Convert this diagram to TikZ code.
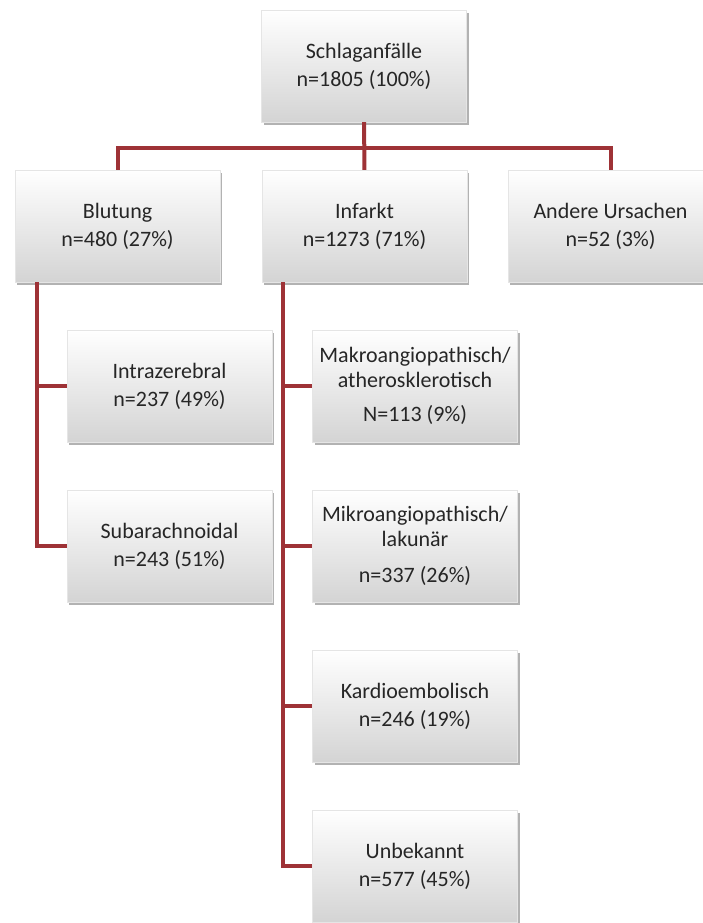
\documentclass[tikz,border=0pt]{standalone}
\usepackage{fontspec}
\setmainfont{Carlito}
\usetikzlibrary{shadows}
\definecolor{linkred}{RGB}{158,50,54}
\tikzset{
  box/.style={minimum width=205pt,minimum height=112pt,align=center,text=black!85,
    top color=white,bottom color=black!17,draw=black!10,
    drop shadow={shadow xshift=2pt,shadow yshift=-3pt,fill=black!55,opacity=0.55},
    font=\fontsize{22}{25}\selectfont},
  link/.style={draw=linkred,line width=4pt}
}
\begin{document}
\begin{tikzpicture}[x=1pt,y=-1pt]
  \useasboundingbox (0,0) rectangle (702,923);
  \node[box] (schlag) at (364,66) {Schlaganfälle\\[3pt]n=1805 (100\%)};
  \node[box] (blutung) at (117.5,226) {Blutung\\[3pt]n=480 (27\%)};
  \node[box] (infarkt) at (364.5,226) {Infarkt\\[3pt]n=1273 (71\%)};
  \node[box] (andere) at (610.5,226) {Andere Ursachen\\[3pt]n=52 (3\%)};
  \node[box] (intra) at (169.5,386) {Intrazerebral\\[3pt]n=237 (49\%)};
  \node[box] (subarach) at (169.5,546) {Subarachnoidal\\[3pt]n=243 (51\%)};
  \node[box] (makro) at (415,386) {Makroangiopathisch/\\atherosklerotisch\\[9pt]N=113 (9\%)};
  \node[box] (mikro) at (415,546) {Mikroangiopathisch/\\lakunär\\[11pt]n=337 (26\%)};
  \node[box] (kardio) at (415,706) {Kardioembolisch\\[3pt]n=246 (19\%)};
  \node[box] (unbek) at (415,866) {Unbekannt\\[3pt]n=577 (45\%)};
  \coordinate (bar) at (364,148);
  \draw[link] (schlag) -- (infarkt);
  \draw[link] (blutung.north) |- (bar) -| (andere.north);
  \draw[link] ([xshift=-80.5pt]blutung.south) |- (intra.west);
  \draw[link] ([xshift=-80.5pt]blutung.south) |- (subarach.west);
  \draw[link] ([xshift=-81.5pt]infarkt.south) |- (makro.west);
  \draw[link] ([xshift=-81.5pt]infarkt.south) |- (mikro.west);
  \draw[link] ([xshift=-81.5pt]infarkt.south) |- (kardio.west);
  \draw[link] ([xshift=-81.5pt]infarkt.south) |- (unbek.west);
\end{tikzpicture}
\end{document}
